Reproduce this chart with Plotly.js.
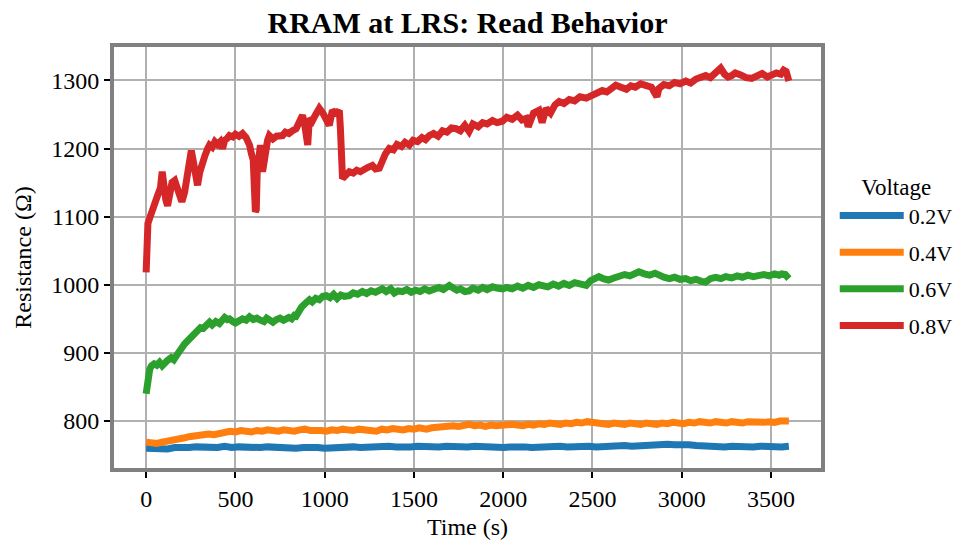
<!DOCTYPE html>
<html>
<head>
<meta charset="utf-8">
<script src="https://cdn.plot.ly/plotly-3.0.1.min.js"></script>
<style>
  html, body { margin: 0; padding: 0; background: #ffffff; }
  #chart { width: 969px; height: 543px; }
</style>
</head>
<body>
<div id="chart"></div>
<script>
// Read resistance of an RRAM cell held in its low-resistance state,
// logged for one hour at four read voltages.
const voltages = ["0.2V", "0.4V", "0.6V", "0.8V"];
const colors = ["#1f77b4", "#ff7f0e", "#2ca02c", "#d62728"];

const t02 = [0,40,80,120,160,200,240,280,320,360,400,440,480,520,560,600,640,680,720,760,800,840,880,920,960,1000,1040,1080,1120,1160,1200,1240,1280,1320,1360,1400,1440,1480,1520,1560,1600,1640,1680,1720,1760,1800,1840,1880,1920,1960,2000,2040,2080,2120,2160,2200,2240,2280,2320,2360,2400,2440,2480,2520,2560,2600,2640,2680,2720,2760,2800,2840,2880,2920,2960,3000,3040,3080,3120,3160,3200,3240,3280,3320,3360,3400,3440,3480,3520,3560,3600];
const r02 = [760,759,760,759,761,760,761,762,761,762,761,763,761,762,761,760,761,762,761,762,761,760,761,762,761,760,761,760,761,762,761,762,761,762,763,762,761,762,763,762,761,762,763,762,763,762,763,762,763,762,761,762,763,762,761,762,763,762,763,762,763,762,763,762,763,764,763,764,763,764,765,764,765,766,765,766,765,764,763,762,763,762,763,762,763,762,763,762,763,762,763];

const t04 = [0,30,60,90,120,150,180,210,240,262,290,320,350,380,410,440,470,500,530,560,590,620,650,680,710,740,770,800,830,860,890,920,950,980,1010,1040,1070,1100,1130,1160,1190,1220,1250,1290,1320,1350,1380,1410,1440,1470,1500,1530,1570,1600,1630,1660,1690,1720,1750,1780,1809,1840,1870,1900,1930,1960,1990,2020,2050,2080,2110,2140,2170,2200,2230,2260,2290,2320,2350,2380,2410,2440,2470,2500,2530,2560,2590,2620,2650,2680,2710,2740,2770,2800,2830,2860,2890,2920,2950,2980,3010,3040,3070,3100,3130,3160,3190,3220,3250,3280,3310,3340,3370,3400,3430,3460,3490,3520,3550,3575,3600];
const r04 = [769,768,767,769,770,772,774,775,777,778,777,779,781,780,782,784,785,784,786,785,784,786,785,787,786,785,787,786,785,787,788,786,787,786,785,787,786,788,787,786,788,787,786,785,788,787,789,788,787,789,788,790,788,790,791,790,792,793,792,794,795,793,794,792,794,793,794,793,795,794,793,795,794,796,795,797,796,795,797,796,798,797,799,798,796,797,795,797,796,795,797,796,795,797,796,795,797,796,798,797,796,798,797,799,798,797,799,798,797,799,798,797,799,798,797,798,799,798,800,801,800];

const t06 = [0,5,10,20,30,45,60,75,90,105,120,140,155,170,185,200,215,230,243,260,275,290,305,320,338,355,370,390,410,425,440,455,467,485,500,520,540,560,579,600,620,640,660,675,690,710,730,750,770,785,800,815,830,840,855,870,885,898,915,930,950,970,990,1010,1030,1050,1070,1090,1110,1138,1160,1185,1211,1235,1260,1285,1305,1323,1345,1370,1390,1410,1435,1460,1485,1510,1535,1560,1586,1610,1640,1665,1698,1720,1740,1760,1785,1809,1830,1860,1885,1910,1940,1965,1996,2020,2050,2080,2110,2140,2170,2200,2220,2250,2280,2310,2340,2370,2400,2430,2465,2490,2510,2536,2560,2590,2620,2648,2680,2710,2740,2760,2790,2820,2850,2872,2900,2930,2960,2990,3022,3050,3080,3110,3134,3160,3190,3220,3246,3280,3310,3340,3370,3400,3430,3460,3490,3520,3545,3560,3580,3600];
const r06 = [840,852,865,876,881,884,882,886,881,886,889,893,890,896,903,908,913,917,920,926,930,933,937,936,940,945,941,946,943,948,952,949,950,946,944,947,950,948,953,949,951,948,946,951,947,945,949,951,948,950,952,950,955,954,962,967,971,975,978,975,980,978,983,984,981,986,980,985,983,984,988,986,990,987,991,989,993,994,990,994,988,991,990,993,989,992,990,994,991,993,996,993,999,995,992,994,990,991,995,992,996,993,997,995,994,996,994,998,995,999,996,1000,999,997,1001,998,1002,999,1003,1001,999,1006,1010,1012,1009,1007,1010,1012,1015,1013,1017,1019,1016,1014,1017,1013,1011,1009,1011,1008,1009,1006,1008,1005,1004,1009,1011,1009,1012,1010,1013,1011,1014,1012,1013,1015,1013,1016,1014,1016,1015,1009];

const t08 = [0,5,10,20,30,40,50,60,70,80,90,100,110,120,130,145,160,175,190,200,215,232,245,253,265,280,288,300,316,330,345,355,370,385,400,415,428,440,455,467,485,500,520,540,560,579,590,600,605,612,617,622,630,640,652,665,680,690,710,730,750,764,780,800,820,840,860,876,890,900,905,914,930,950,970,990,1010,1026,1043,1060,1075,1082,1088,1093,1100,1115,1138,1160,1180,1200,1220,1240,1267,1285,1306,1320,1340,1362,1385,1405,1430,1450,1474,1495,1520,1545,1565,1586,1610,1635,1660,1685,1710,1737,1760,1785,1809,1830,1860,1885,1910,1940,1965,1995,2020,2050,2080,2105,2128,2140,2170,2200,2218,2240,2265,2290,2313,2340,2370,2400,2430,2465,2500,2530,2555,2580,2610,2631,2660,2690,2715,2740,2770,2799,2830,2861,2872,2900,2930,2960,2990,3022,3050,3080,3110,3134,3160,3190,3218,3240,3260,3280,3300,3330,3360,3392,3420,3450,3480,3504,3530,3555,3571,3585,3595,3600];
const r08 = [1018,1060,1090,1098,1108,1115,1122,1128,1135,1142,1166,1140,1125,1116,1135,1150,1153,1140,1128,1122,1135,1166,1190,1197,1180,1160,1146,1165,1175,1190,1200,1205,1202,1210,1206,1210,1200,1212,1215,1219,1217,1221,1218,1222,1216,1205,1192,1183,1150,1107,1110,1165,1190,1205,1166,1195,1212,1219,1214,1218,1220,1219,1224,1222,1226,1229,1240,1249,1232,1210,1205,1244,1240,1250,1259,1252,1240,1234,1256,1252,1254,1256,1230,1160,1156,1160,1166,1164,1168,1166,1170,1172,1175,1170,1171,1182,1192,1200,1198,1206,1203,1209,1205,1212,1210,1216,1213,1219,1222,1218,1226,1224,1230,1229,1226,1234,1225,1236,1232,1238,1236,1241,1238,1240,1246,1243,1249,1242,1244,1232,1252,1256,1238,1259,1252,1264,1269,1266,1272,1270,1276,1274,1278,1282,1285,1283,1289,1293,1290,1287,1292,1290,1295,1293,1290,1276,1288,1294,1292,1297,1295,1299,1296,1302,1305,1307,1304,1310,1318,1309,1305,1307,1311,1308,1304,1303,1307,1310,1305,1307,1311,1309,1315,1313,1305,1299];

const times = [t02, t04, t06, t08];
const resistances = [r02, r04, r06, r08];

const serif = "'Liberation Serif', 'Times New Roman', serif";

const traces = voltages.map((v, i) => ({
  type: "scatter",
  mode: "lines",
  name: v,
  legendgroup: v,
  x: times[i],
  y: resistances[i],
  line: { color: colors[i], width: 7 },
  hoverinfo: "x+y+name"
}));

const axisCommon = {
  showline: true,
  mirror: true,
  linecolor: "#808080",
  linewidth: 4,
  showgrid: true,
  gridcolor: "#b0b0b0",
  gridwidth: 1.5,
  zeroline: false,
  ticks: "outside",
  ticklen: 6,
  tickwidth: 1.5,
  tickcolor: "#000000",
  tickfont: { family: serif, size: 24, color: "#000000" }
};

const layout = {
  width: 969,
  height: 543,
  paper_bgcolor: "#ffffff",
  plot_bgcolor: "#ffffff",
  margin: { l: 114, r: 147, t: 47, b: 75 },
  title: {
    text: "<b>RRAM at LRS: Read Behavior</b>",
    font: { family: serif, size: 30, color: "#000000" },
    x: 0.5, xref: "paper", xanchor: "center",
    y: 0.959, yref: "container", yanchor: "middle"
  },
  xaxis: Object.assign({}, axisCommon, {
    range: [-180, 3780],
    tickmode: "array",
    tickvals: [0, 500, 1000, 1500, 2000, 2500, 3000, 3500],
    title: { text: "Time (s)", font: { family: serif, size: 24, color: "#000000" }, standoff: 8 }
  }),
  yaxis: Object.assign({}, axisCommon, {
    range: [731, 1349],
    tickmode: "array",
    tickvals: [800, 900, 1000, 1100, 1200, 1300],
    title: { text: "Resistance (Ω)", font: { family: serif, size: 24, color: "#000000" }, standoff: 14 }
  }),
  showlegend: true,
  legend: {
    x: 1.018, xanchor: "left",
    y: 0.72, yanchor: "top",
    bgcolor: "rgba(0,0,0,0)",
    borderwidth: 0,
    font: { family: serif, size: 22, color: "#000000" },
    title: { text: "Voltage", side: "top center", font: { family: serif, size: 23, color: "#000000" } },
    traceorder: "grouped",
    tracegroupgap: 5,
    itemwidth: 64
  }
};

Plotly.newPlot("chart", traces, layout, { displayModeBar: false, responsive: false });
</script>
</body>
</html>
